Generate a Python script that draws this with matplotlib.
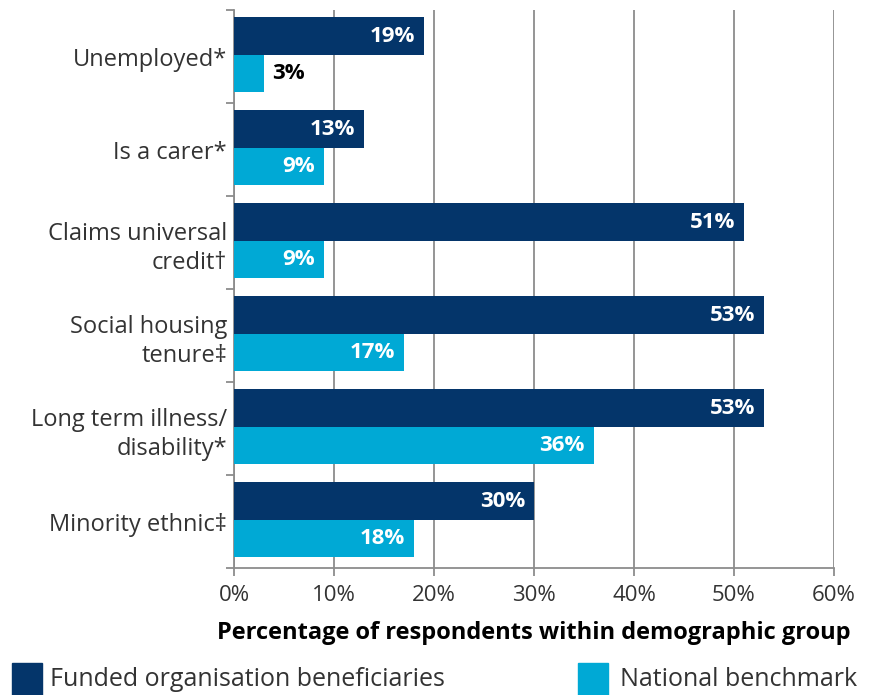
import matplotlib
matplotlib.use("Agg")
import matplotlib.pyplot as plt
from matplotlib.patches import Rectangle
import numpy as np

plt.rcParams["font.family"] = ["Open Sans", "DejaVu Sans"]

categories = [
    "Unemployed*",
    "Is a carer*",
    "Claims universal\ncredit\u2020",
    "Social housing\ntenure\u2021",
    "Long term illness/\ndisability*",
    "Minority ethnic\u2021",
]
funded = [19, 13, 51, 53, 53, 30]
benchmark = [3, 9, 9, 17, 36, 18]
series_names = ["Funded organisation beneficiaries", "National benchmark"]
x_ticks = [0, 10, 20, 30, 40, 50, 60]

DARK = "#04356A"
LIGHT = "#00A9D5"
GRID = "#8C8C8C"
TEXT = "#333333"

fig = plt.figure(figsize=(8.69, 6.95), dpi=100)
ax = fig.add_axes([0.2693, 0.1827, 0.6904, 0.8029])

n = len(categories)
y = np.arange(n)
h = 0.4
off = -0.02
ax.barh(y - h / 2 + off, funded, height=h, color=DARK, zorder=3)
ax.barh(y + h / 2 + off, benchmark, height=h, color=LIGHT, zorder=3)

for i in range(n):
    ax.text(funded[i] - 0.9, y[i] - h / 2 + off, f"{funded[i]}%", ha="right", va="center",
            color="white", fontsize=16, fontweight="bold", zorder=4)
    if benchmark[i] < 6:
        ax.text(benchmark[i] + 0.8, y[i] + h / 2 + off, f"{benchmark[i]}%", ha="left",
                va="center", color="black", fontsize=16, fontweight="bold", zorder=4)
    else:
        ax.text(benchmark[i] - 0.9, y[i] + h / 2 + off, f"{benchmark[i]}%", ha="right",
                va="center", color="white", fontsize=16, fontweight="bold", zorder=4)

ax.set_xlim(0, 60)
ax.set_ylim(n - 0.5, -0.5)
ax.set_xticks(x_ticks)
ax.set_xticklabels([f"{t}%" for t in x_ticks], fontsize=16, color=TEXT)
ax.xaxis.grid(True, color=GRID, linewidth=1.3, zorder=0)
ax.tick_params(axis="x", length=6, width=1.3, color=GRID, pad=6)

# category ticks sit on the group boundaries, labels centred on each group
ax.set_yticks(np.arange(n + 1) - 0.5)
ax.set_yticklabels([])
ax.set_yticks(y, minor=True)
ax.set_yticklabels(categories, minor=True, fontsize=17, color=TEXT, linespacing=1.3)
ax.tick_params(axis="y", which="major", length=6, width=1.3, color=GRID)
ax.tick_params(axis="y", which="minor", length=0, pad=5)

for side in ["top", "right"]:
    ax.spines[side].set_visible(False)
for side in ["left", "bottom"]:
    ax.spines[side].set_color(GRID)
    ax.spines[side].set_linewidth(1.3)

ax.set_xlabel("Percentage of respondents within demographic group", fontsize=17,
              fontweight="bold", color="black", labelpad=11)

# legend swatches along the bottom edge
fig.add_artist(Rectangle((12 / 869, 0), 30 / 869, 32 / 695, transform=fig.transFigure,
                         color=DARK))
fig.text(50 / 869, 15 / 695, series_names[0], fontsize=18, color=TEXT, va="center")
fig.add_artist(Rectangle((578 / 869, 0), 30 / 869, 32 / 695, transform=fig.transFigure,
                         color=LIGHT))
fig.text(620 / 869, 15 / 695, series_names[1], fontsize=18, color=TEXT, va="center")

fig.savefig("out.png", dpi=100)
